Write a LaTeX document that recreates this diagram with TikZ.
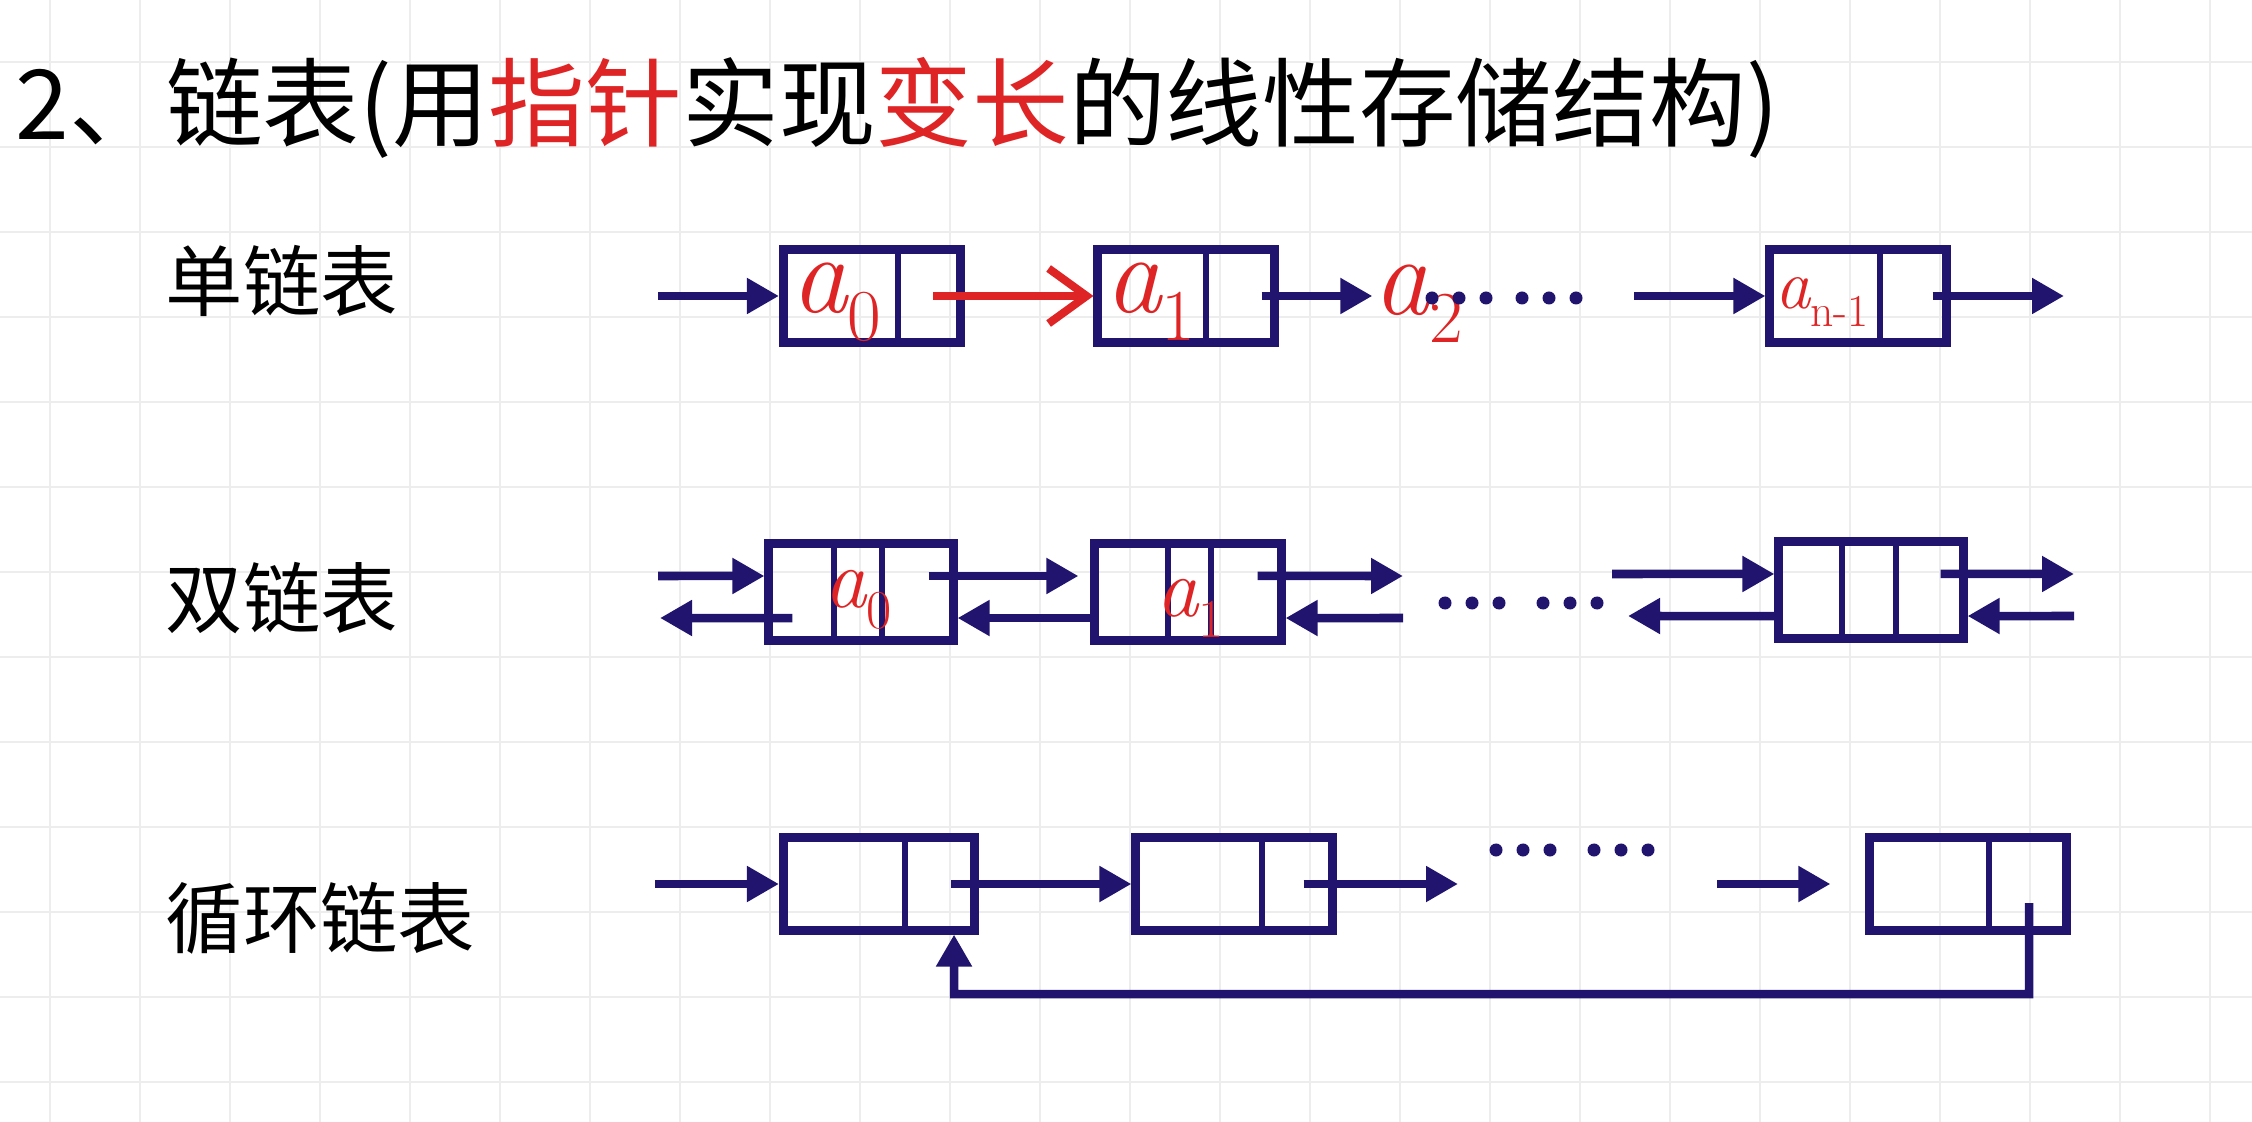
\documentclass[tikz,border=0pt]{standalone}
\usepackage{fontspec}
\newfontfamily\cjk{Noto Sans CJK SC}
\usetikzlibrary{arrows.meta,calc}
\definecolor{navy}{RGB}{32,20,110}
\definecolor{pen}{RGB}{222,36,36}
\newcommand\hsub[1]{\raisebox{-0.25em}{\scalebox{0.65}{\upshape #1}}}

\begin{document}
\begin{tikzpicture}[x=0.01cm,y=-0.01cm,
  cell/.style={draw=navy,line width=0.09cm,minimum height=0.92cm,inner sep=0pt},
  arr/.style={-{Triangle[length=0.32cm,width=0.34cm]},navy,line width=0.085cm},
  div/.style={navy,line width=0.055cm},
  hand/.style={text=pen,inner sep=0pt,font=\itshape\fontsize{32}{32}\selectfont},
  lbl/.style={font=\cjk\fontsize{22}{22}\selectfont,inner sep=0pt,anchor=west},
  grid line/.style={black!7,line width=0.025cm}
]
\fill[white] (0,0) rectangle (2252,1122);
\useasboundingbox (0,0) rectangle (2252,1122);
% squared paper
\foreach \x in {50,140,...,2240} \draw[grid line] (\x,0) -- (\x,1122);
\foreach \y in {62,147,...,1110} \draw[grid line] (0,\y) -- (2252,\y);

\node[anchor=west,inner sep=0pt,font=\cjk\fontsize{27.5}{27.5}\selectfont] (title) at (15,108)
  {2、链表(用\textcolor{pen}{指针}实现\textcolor{pen}{变长}的线性存储结构)};
\node[lbl] (single) at (165,281) {单链表};
\node[lbl] (double) at (165,598) {双链表};
\node[lbl] (circular) at (165,918) {循环链表};

% single
\node[cell,minimum width=1.77cm] (s0) at (872,296) {};
\node[cell,minimum width=1.76cm] (s1) at (1186,296) {};
\node[cell,minimum width=1.76cm] (sn) at (1858,296) {};
\foreach \n/\d in {s0/0.26,s1/0.20,sn/0.22}
  \draw[div] ([xshift=\d cm]\n.north) -- ([xshift=\d cm]\n.south);
\node[hand] (a0) at (836,302) {a\hsub{0}};
\node[hand] (a1) at (1150,302) {a\hsub{1}};
\node[hand] (a2) at (1418,304) {a\hsub{2}};
\node[hand,font=\itshape\fontsize{20}{20}\selectfont] (an) at (1822,302) {a\hsub{n-1}};
\coordinate (s in) at (658,296);
\coordinate (sn in) at (1634,296);
\coordinate (sn out) at (2064,296);
\draw[arr] (s in) -- (s0.west);
\draw[pen,line width=0.08cm,-{Straight Barb[length=0.38cm,width=0.55cm]}] ([xshift=-0.32cm]s0.east) -- (s1.west);
\draw[arr] ([xshift=-0.17cm]s1.east) -- (a2.west |- s1.east);
\foreach \x in {1432,1459,1486,1522,1549,1576} \fill[navy] (\x,298) circle (0.065cm);
\draw[arr] (sn in) -- (sn.west);
\draw[arr] ([xshift=-0.18cm]sn.east) -- (sn out);

% double
\node[cell,minimum height=0.96cm,minimum width=1.84cm] (d0) at (861,592) {};
\node[cell,minimum height=0.96cm,minimum width=1.86cm] (d1) at (1188,592) {};
\node[cell,minimum height=0.96cm,minimum width=1.84cm] (dn) at (1871,590) {};
\foreach \n/\l/\r in {d0/-0.27/0.21,d1/-0.20/0.23,dn/-0.29/0.25} {
  \draw[div] ([xshift=\l cm]\n.north) -- ([xshift=\l cm]\n.south);
  \draw[div] ([xshift=\r cm]\n.north) -- ([xshift=\r cm]\n.south);
}
\node[hand,font=\itshape\fontsize{24}{24}\selectfont] (b0) at (858,600) {a\hsub{0}};
\node[hand,font=\itshape\fontsize{24}{24}\selectfont] (b1) at (1190,608) {a\hsub{1}};
\coordinate (d in) at (658,576);
\coordinate (d out) at (660,618);
\coordinate (d1 out) at (1403,576);
\coordinate (d1 in) at (1403,618);
\coordinate (dn in) at (1612,574);
\coordinate (dn out) at (1628,616);
\coordinate (dn next) at (2074,574);
\coordinate (dn prev) at (2074,616);
\draw[arr] (d in) -- ([yshift=0.16cm]d0.west);
\draw[arr] ([xshift=0.28cm,yshift=-0.26cm]d0.west) -- (d out);
\draw[arr] ([xshift=-0.29cm,yshift=0.16cm]d0.east) -- ([xshift=-0.12cm,yshift=0.16cm]d1.west);
\draw[arr] ([yshift=-0.26cm]d1.west) -- ([yshift=-0.26cm]d0.east);
\draw[arr] ([xshift=-0.28cm,yshift=0.16cm]d1.east) -- (d1 out);
\draw[arr] (d1 in) -- ([yshift=-0.26cm]d1.east);
\foreach \x in {1445,1472,1499,1543,1570,1597} \fill[navy] (\x,603) circle (0.065cm);
\draw[arr] (dn in) -- ([yshift=0.16cm]dn.west);
\draw[arr] ([yshift=-0.26cm]dn.west) -- (dn out);
\draw[arr] ([xshift=-0.27cm,yshift=0.16cm]dn.east) -- (dn next);
\draw[arr] (dn prev) -- ([yshift=-0.26cm]dn.east);

% circular
\node[cell,minimum width=1.91cm] (c0) at (879,884) {};
\node[cell,minimum width=1.96cm] (c1) at (1234,884) {};
\node[cell,minimum width=1.96cm] (cn) at (1968,884) {};
\foreach \n/\d in {c0/0.26,c1/0.28,cn/0.21}
  \draw[div] ([xshift=\d cm]\n.north) -- ([xshift=\d cm]\n.south);
\coordinate (c in) at (655,884);
\coordinate (c1 out) at (1458,884);
\coordinate (cn in) at (1717,884);
\coordinate (c back) at (954,994);
\draw[arr] (c in) -- (c0.west);
\draw[arr] ([xshift=-0.28cm]c0.east) -- (c1.west);
\draw[arr] ([xshift=-0.33cm]c1.east) -- (c1 out);
\foreach \x in {1496,1523,1550,1594,1621,1648} \fill[navy] (\x,850) circle (0.065cm);
\draw[arr] (cn in) -- ([xshift=-0.35cm]cn.west);
\draw[arr] ([xshift=0.61cm,yshift=-0.19cm]cn.center) |- (c back) -- ([xshift=0.75cm]c0.south);
\end{tikzpicture}
\end{document}
